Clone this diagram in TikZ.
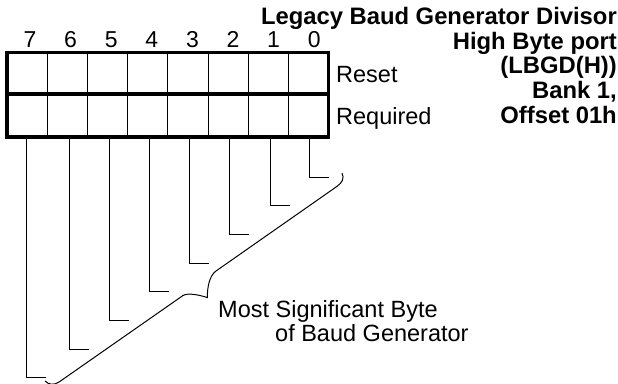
\documentclass[tikz,border=0pt]{standalone}
\usepackage{fontspec}
\setmainfont{Liberation Sans}
\begin{document}
\begin{tikzpicture}[x=1pt,y=-1pt,
  cell/.style={draw, line width=1pt, minimum width=40.2pt, inner sep=0pt, outer sep=0pt},
  border/.style={line width=3.5pt},
  leader/.style={line width=1pt},
  bitnum/.style={font=\fontsize{23}{23}\selectfont, inner sep=0pt, anchor=base},
  lbl/.style={font=\fontsize{23.5}{23.5}\selectfont, inner sep=0pt, anchor=base west},
  titletext/.style={font=\bfseries\fontsize{23.8}{24.7}\selectfont, inner sep=0pt, align=right, anchor=north east}]
\useasboundingbox (0,0) rectangle (618,383);
% register cells
\foreach \b in {0,...,7}{
  \node[cell, minimum height=41.9pt] (t\b) at ({7+40.2*(7-\b)+20.1},73.25) {};
  \node[cell, minimum height=42.8pt] (b\b) at ({7+40.2*(7-\b)+20.1},115.6) {};
  \node[bitnum] (n\b) at ({30+40.6*(7-\b)},47) {\b};
}
\draw[border] (t7.north west) rectangle (b0.south east);
\draw[border] (t7.south west) -- (t0.south east);
% labels
\node[lbl] (reset) at (336,82) {Reset};
\node[lbl] (required) at (336,124) {Required};
\node[titletext] (title) at (617,7) {Legacy Baud Generator Divisor\\High Byte port\\(LBGD(H))\\Bank 1,\\Offset 01h};
% leaders
\foreach \b/\x in {7/26,6/69,5/109,4/149,3/189,2/229,1/270,0/309}{
  \coordinate (k\b) at (\x,{177+28.7*\b});
  \draw[leader] (k\b |- b\b.south) -- (k\b) -- ++(20,0) coordinate (e\b);
}
% brace
\draw[leader] (342,173) .. controls (344.5,178.5) and (342.5,182.4) .. (336.8,186.5)
  -- (216,271) .. controls (209.5,275.5) and (207.3,287) .. (207.3,297.5)
  .. controls (199,295) and (188.5,292.5) .. (183,295.5)
  -- (59.5,381.7) .. controls (54,385.5) and (49,385) .. (45,381);
\node[lbl] (msb1) at (218,317) {Most Significant Byte};
\node[lbl] (msb2) at (275,341) {of Baud Generator};
\end{tikzpicture}
\end{document}
